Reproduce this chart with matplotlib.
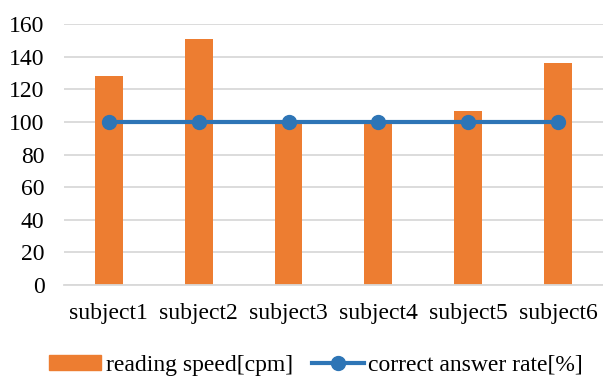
import matplotlib.pyplot as plt
from matplotlib.patches import Patch
from matplotlib.lines import Line2D

# data
subjects = ["subject1", "subject2", "subject3", "subject4", "subject5", "subject6"]
reading_speed = [128, 151, 100, 100, 107, 136]
correct_rate = [100, 100, 100, 100, 100, 100]
y_ticks = [0, 20, 40, 60, 80, 100, 120, 140, 160]

bar_color = "#ED7D31"
line_color = "#2E75B6"
grid_color = "#D9D9D9"

plt.rcParams["font.family"] = ["Liberation Serif", "DejaVu Serif"]
plt.rcParams["font.size"] = 17

fig = plt.figure(figsize=(6.03, 3.76), dpi=100)
ax = fig.add_axes([0.106, 0.242, 0.894, 0.694])

x = list(range(len(subjects)))
ax.bar(x, reading_speed, width=0.31, color=bar_color, zorder=2)
ax.plot(x, correct_rate, color=line_color, linewidth=3, marker="o",
        markersize=10, zorder=3)

ax.set_xlim(-0.5, len(subjects) - 0.5)
ax.set_ylim(0, 160)
ax.set_yticks(y_ticks)
ax.set_xticks(x)
ax.set_xticklabels(subjects)
ax.yaxis.grid(True, color=grid_color, linewidth=1.3, zorder=0)
ax.set_axisbelow(True)
ax.tick_params(axis="y", length=0, pad=14)
ax.tick_params(axis="x", length=0, pad=13)
for side in ["top", "right", "left"]:
    ax.spines[side].set_visible(False)
ax.spines["bottom"].set_color(grid_color)
ax.spines["bottom"].set_linewidth(1.3)

handles = [
    Patch(color=bar_color, label="reading speed[cpm]"),
    Line2D([0], [0], color=line_color, linewidth=3, marker="o",
           markersize=10, label="correct answer rate[%]"),
]
fig.legend(handles=handles, loc="center", bbox_to_anchor=(0.524, 0.028),
           ncol=2, frameon=False, handlelength=2.2, handletextpad=0.2,
           columnspacing=0.8, handleheight=0.6)

fig.savefig("out.png", dpi=100)
